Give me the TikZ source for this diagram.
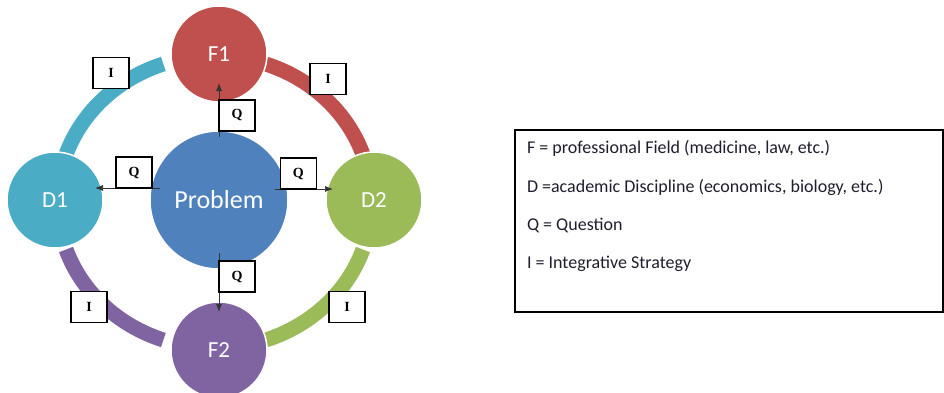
\documentclass[tikz,border=0pt]{standalone}
\usepackage{fontspec}
\usetikzlibrary{positioning, arrows.meta}
\newfontfamily\calibri{Carlito}
\newfontfamily\boxfont{Liberation Serif}
\definecolor{problemblue}{HTML}{4F81BD}
\definecolor{fieldred}{HTML}{C0504D}
\definecolor{fieldpurple}{HTML}{8064A2}
\definecolor{discteal}{HTML}{4BACC6}
\definecolor{discgreen}{HTML}{9BBB59}
\definecolor{keyink}{HTML}{1E1E2E}

\begin{document}
\begin{tikzpicture}[x=1pt, y=1pt, inner sep=0pt, outer sep=0pt,
    hub/.style={circle, fill=problemblue, draw=white, line width=1.5pt, minimum size=138pt, text=white, font=\calibri\fontsize{26}{26}\selectfont},
    area/.style={circle, draw=white, line width=1.5pt, minimum size=96pt, text=white, font=\calibri\fontsize{23}{23}\selectfont},
    ring/.style={line width=15pt},
    qline/.style={-{Latex[length=8pt, width=6pt]}, line width=0.7pt, draw=black!80},
    tag/.style={draw=black, line width=1.3pt, fill=white, minimum width=36pt, minimum height=31pt, font=\boxfont\bfseries\fontsize{14}{14}\selectfont},
    keyline/.style={anchor=base west, text=keyink, font=\calibri\fontsize{18}{18}\selectfont}]
    \useasboundingbox (0,0) rectangle (944,392);

    % ring behind the circles
    \coordinate (O) at (214.5,190);
    \draw[ring, draw=fieldred] (O) ++(19:157 and 146) arc[start angle=19, end angle=71, x radius=157, y radius=146];
    \draw[ring, draw=discteal] (O) ++(109:157 and 146) arc[start angle=109, end angle=161, x radius=157, y radius=146];
    \draw[ring, draw=fieldpurple] (O) ++(199:157 and 146) arc[start angle=199, end angle=251, x radius=157, y radius=146];
    \draw[ring, draw=discgreen] (O) ++(289:157 and 146) arc[start angle=289, end angle=341, x radius=157, y radius=146];

    \node[hub] (P) at (219,192) {Problem};
    \node[area, fill=fieldred] (F1) [above = 29pt of P] {F1};
    \node[area, fill=discteal] (D1) [left = 47pt of P] {D1};
    \node[area, fill=discgreen] (D2) [right = 38pt of P] {D2};
    \node[area, fill=fieldpurple] (F2) [below = 33pt of P] {F2};

    % questions from the problem
    \draw[qline] ([yshift=-6pt]P.north) -- ([yshift=19pt]F1.south) node[tag, anchor=west, pos=0.4] (QF1) {Q};
    \draw[qline] ([shift={(10pt,12pt)}]P.west) -- ([shift={(-8pt,12pt)}]D1.east) node[tag, anchor=south, pos=0.4] (QD1) {Q};
    \draw[qline] ([shift={(-13pt,11pt)}]P.east) -- ([shift={(7pt,11pt)}]D2.west) node[tag, anchor=south, pos=0.4] (QD2) {Q};
    \draw[qline] ([yshift=16pt]P.south) -- ([yshift=-10pt]F2.north) node[tag, anchor=west, pos=0.4] (QF2) {Q};

    % integrative strategies on the ring
    \node[tag] (ID1F1) at (111,319) {I};
    \node[tag] (IF1D2) at (328,313) {I};
    \node[tag] (ID1F2) at (89,85) {I};
    \node[tag] (ID2F2) at (347,85) {I};

    % key
    \draw[line width=1.3pt] (515,80) rectangle (943,262);
    \node[keyline] (kF) at (527,239) {F = professional Field (medicine, law, etc.)};
    \node[keyline] (kD) at ([yshift=-39pt]kF.base west) {D =academic Discipline (economics, biology, etc.)};
    \node[keyline] (kQ) at ([yshift=-38pt]kD.base west) {Q = Question};
    \node[keyline] (kI) at ([yshift=-38pt]kQ.base west) {I = Integrative Strategy};
\end{tikzpicture}
\end{document}
